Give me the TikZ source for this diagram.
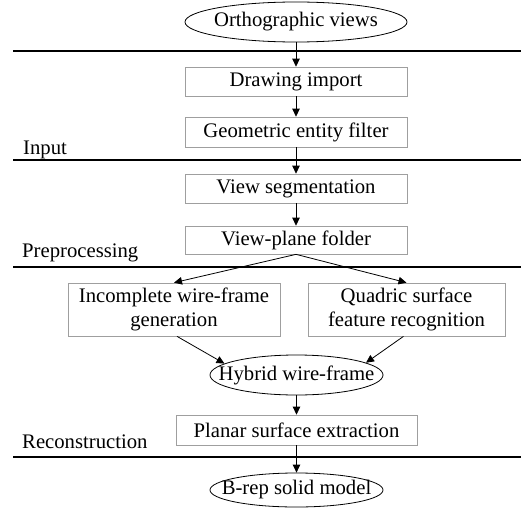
\documentclass[tikz,border=0pt]{standalone}
\usepackage{fontspec}
\setmainfont{Liberation Serif}
\usetikzlibrary{shapes.geometric,arrows.meta}

\tikzset{
  procbox/.style={draw=gray!75,line width=0.7pt,inner sep=0pt,align=center,
    font=\fontsize{20.7}{24.5}\selectfont},
  endpoint/.style={ellipse,draw,line width=0.8pt,inner ysep=0pt,inner xsep=-40pt,
    font=\fontsize{20.7}{24.5}\selectfont},
  flow/.style={-{Triangle[length=8pt,width=7.5pt]},line width=0.8pt},
  stageline/.style={line width=1.3pt},
  stagename/.style={anchor=base west,inner sep=0pt,font=\fontsize{20.7}{24.5}\selectfont}
}

\begin{document}
\begin{tikzpicture}[x=1pt,y=-1pt]
         \useasboundingbox (0,0) rectangle (521,508) ;
         % stage separators
         \draw[stageline] (13,51) -- (521,51) ;
         \draw[stageline] (13,160) -- (521,160) ;
         \draw[stageline] (13,267) -- (521,267) ;
         \draw[stageline] (13,457) -- (521,457) ;
         \node[stagename] (input) at (23,154) {Input} ;
         \node[stagename] (prep) at (22,257) {Preprocessing} ;
         \node[stagename] (recon) at (22,448) {Reconstruction} ;
         % steps
         \node[endpoint,minimum width=222pt,minimum height=40pt] (ortho) at (296,22) {Orthographic views} ;
         \node[procbox,minimum width=222pt,minimum height=29pt] (drawimp) at (296,81.5) {Drawing import} ;
         \node[procbox,minimum width=222pt,minimum height=30pt] (geofilt) at (296,132) {Geometric entity filter} ;
         \node[procbox,minimum width=222pt,minimum height=29pt] (viewseg) at (296,188.5) {View segmentation} ;
         \node[procbox,minimum width=222pt,minimum height=28pt] (vpfold) at (296,240) {View-plane folder} ;
         \node[procbox,minimum width=212pt,minimum height=53pt] (incwire) at (174,309.5) {Incomplete wire-frame\\generation} ;
         \node[procbox,minimum width=197pt,minimum height=53pt] (quadric) at (406.5,309.5) {Quadric surface\\feature recognition} ;
         \node[endpoint,minimum width=173pt,minimum height=40pt] (hybrid) at (296.5,375) {Hybrid wire-frame} ;
         \node[procbox,minimum width=241pt,minimum height=30pt] (planar) at (296.5,430) {Planar surface extraction} ;
         \node[endpoint,minimum width=173pt,minimum height=34pt] (brep) at (296.5,490) {B-rep solid model} ;
         % flow
         \draw[flow] (ortho) -- (drawimp) ;
         \draw[flow] (drawimp) -- (geofilt) ;
         \draw[flow] (geofilt) -- (viewseg) ;
         \draw[flow] (viewseg) -- (vpfold) ;
         \draw[flow] (vpfold.south) -- (incwire.north) ;
         \draw[flow] (vpfold.south) -- (quadric.north) ;
         \draw[flow] ([xshift=3pt]incwire.south) -- (hybrid.171) ;
         \draw[flow] ([xshift=-3pt]quadric.south) -- (hybrid.10) ;
         \draw[flow] (hybrid) -- (planar) ;
         \draw[flow] (planar) -- (brep) ;
       \end{tikzpicture}
\end{document}
